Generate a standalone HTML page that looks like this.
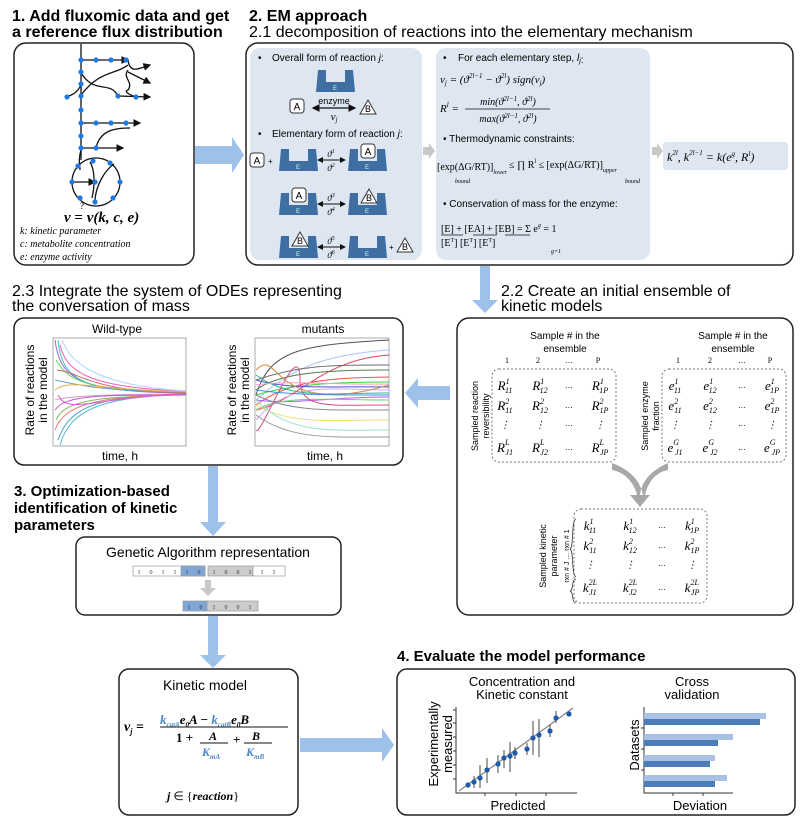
<!DOCTYPE html>
<html><head><meta charset="utf-8"><style>
html,body{margin:0;padding:0;background:#fff;}
svg{display:block;}
.b{font-family:"Liberation Sans",sans-serif;font-weight:bold;}
.s{font-family:"Liberation Sans",sans-serif;}
.m{font-family:"Liberation Serif",serif;font-style:italic;}
</style></head><body>
<svg width="800" height="823" viewBox="0 0 800 823" xmlns="http://www.w3.org/2000/svg">
<defs>
<g id="enz"><path d="M0,0 L8,0 L8,12 L27,12 L27,0 L35,0 L37,22 L-2,22 Z" fill="#3f6ea3"/><text x="17" y="20" font-size="6" fill="#cfe" class="s" text-anchor="middle">E</text></g>
<g id="ba"><rect x="0" y="0" width="14" height="14" rx="3" fill="#fff" stroke="#333"/><text x="7" y="11" font-size="10" class="s" text-anchor="middle">A</text></g>
<g id="tb"><path d="M7,0 L15,14 L-1,14 Z" fill="#fff" stroke="#333"/><text x="7" y="12" font-size="9" class="s" text-anchor="middle">B</text></g>
<marker id="ah" markerWidth="6" markerHeight="6" refX="5" refY="3" orient="auto"><path d="M0,0 L6,3 L0,6 Z" fill="#111"/></marker>
<marker id="ahs" markerWidth="6" markerHeight="6" refX="1" refY="3" orient="auto"><path d="M6,0 L0,3 L6,6 Z" fill="#111"/></marker>
</defs>

<!-- Titles -->
<text x="12" y="21" font-size="16" class="b">1. Add fluxomic data and get</text>
<text x="12" y="37" font-size="16" class="b">a reference flux distribution</text>
<text x="249" y="21" font-size="16" class="b">2. EM approach</text>
<text x="249" y="37" font-size="16" class="s">2.1 decomposition of reactions into the elementary mechanism</text>

<!-- Box 1 -->
<rect x="14" y="43" width="180" height="222" rx="12" fill="#fff" stroke="#222" stroke-width="1.5"/>
<g stroke="#111" stroke-width="1.3" fill="none">
<line x1="81" y1="44" x2="81" y2="160"/>
<line x1="81" y1="60" x2="128" y2="60" marker-end="url(#ah)"/>
<path d="M128,60 C130,75 140,68 150,65" marker-end="url(#ah)"/>
<line x1="128" y1="72" x2="150" y2="83" marker-end="url(#ah)"/>
<path d="M81,73 C95,95 110,80 118,96" />
<path d="M81,95 C100,70 115,75 128,65"/>
<line x1="118" y1="96" x2="150" y2="97" marker-end="url(#ah)"/>
<path d="M128,70 C122,78 134,82 128,90 C122,92 134,96 135,97"/>
<path d="M81,85 C76,95 70,95 67,97"/>
<line x1="81" y1="123" x2="140" y2="123" marker-end="url(#ah)"/>
<line x1="81" y1="148" x2="123" y2="148" marker-end="url(#ah)"/>
<path d="M96,148 C100,130 115,128 130,128"/>
<path d="M81,150 C78,160 80,165 80,170"/>
<circle cx="96" cy="182" r="24"/>
<line x1="73" y1="182" x2="95" y2="182" marker-end="url(#ah)"/>
<path d="M95,200 C96,185 105,170 114,164"/>
<path d="M92,198 C95,185 95,170 90,162"/>
</g>
<g fill="#1e7be0">
<circle cx="81" cy="60" r="2.6"/><circle cx="96" cy="60" r="2.6"/><circle cx="111" cy="60" r="2.6"/><circle cx="126" cy="60" r="2.6"/>
<circle cx="81" cy="72" r="2.6"/><circle cx="81" cy="84" r="2.6"/><circle cx="81" cy="96" r="2.6"/><circle cx="67" cy="97" r="2.6"/>
<circle cx="118" cy="96" r="2.6"/><circle cx="136" cy="97" r="2.6"/><circle cx="81" cy="110" r="2.6"/>
<circle cx="81" cy="123" r="2.6"/><circle cx="96" cy="123" r="2.6"/><circle cx="111" cy="123" r="2.6"/><circle cx="126" cy="123" r="2.6"/>
<circle cx="81" cy="136" r="2.6"/><circle cx="81" cy="148" r="2.6"/><circle cx="96" cy="148" r="2.6"/>
<circle cx="78" cy="166" r="2.6"/><circle cx="93" cy="161" r="2.6"/><circle cx="110" cy="163" r="2.6"/>
<circle cx="72" cy="182" r="2.6"/><circle cx="95" cy="182" r="2.6"/><circle cx="120" cy="182" r="2.6"/>
<circle cx="80" cy="198" r="2.6"/><circle cx="95" cy="202" r="2.6"/><circle cx="113" cy="198" r="2.6"/>
</g>
<text x="64" y="222" font-size="15" font-family="Liberation Serif,serif" font-weight="bold" font-style="italic">v <tspan font-style="normal">=</tspan> v(k, c, e)</text>
<text x="80" y="209" font-size="9" font-family="Liberation Serif,serif">?</text>
<text x="20" y="234" font-size="10" class="m">k: kinetic parameter</text>
<text x="20" y="247" font-size="10" class="m">c: metabolite concentration</text>
<text x="20" y="260" font-size="10" class="m">e: enzyme activity</text>

<!-- Arrow 1->2 -->
<path d="M195,146 L232,146 L232,137 L244,155 L232,173 L232,164 L195,164 Z" fill="#9dc1e8"/>

<!-- Box 2 -->
<rect x="246" y="43" width="547" height="222" rx="12" fill="#fff" stroke="#222" stroke-width="1.5"/>
<rect x="250" y="48" width="172" height="212" rx="10" fill="#dee7f1"/>
<rect x="436" y="48" width="214" height="212" rx="10" fill="#dee7f1"/>
<text x="258" y="61" font-size="10" class="s">•</text><text x="272" y="61" font-size="10" class="s">Overall form of reaction <tspan font-style="italic">j</tspan>:</text>
<use href="#enz" x="318" y="70"/>
<use href="#ba" x="290" y="99"/>
<line x1="313" y1="108" x2="355" y2="108" stroke="#111" stroke-width="1.3" marker-end="url(#ah)" marker-start="url(#ahs)"/>
<text x="334" y="104" font-size="9" class="s" text-anchor="middle">enzyme</text>
<text x="334" y="120" font-size="11" class="m" text-anchor="middle">v<tspan font-size="7" dy="2">j</tspan></text>
<use href="#tb" x="361" y="100"/>
<text x="258" y="137" font-size="10" class="s">•</text><text x="272" y="137" font-size="10" class="s">Elementary form of reaction <tspan font-style="italic">j</tspan>:</text>
<!-- row1 -->
<use href="#ba" x="250" y="153"/><text x="268" y="164" font-size="8" class="s">+</text>
<use href="#enz" x="281" y="149"/>
<line x1="318" y1="160" x2="345" y2="160" stroke="#111" marker-end="url(#ah)" marker-start="url(#ahs)"/>
<text x="331" y="157" font-size="9" class="m" text-anchor="middle">ϑ<tspan font-size="6" dy="-4">1</tspan></text>
<text x="331" y="171" font-size="9" class="m" text-anchor="middle">ϑ<tspan font-size="6" dy="-4">2</tspan></text>
<use href="#enz" x="350" y="149"/><use href="#ba" x="361" y="144"/>
<!-- row2 -->
<use href="#enz" x="281" y="193"/><use href="#ba" x="292" y="188"/>
<line x1="318" y1="204" x2="345" y2="204" stroke="#111" marker-end="url(#ah)" marker-start="url(#ahs)"/>
<text x="331" y="201" font-size="9" class="m" text-anchor="middle">ϑ<tspan font-size="6" dy="-4">3</tspan></text>
<text x="331" y="215" font-size="9" class="m" text-anchor="middle">ϑ<tspan font-size="6" dy="-4">4</tspan></text>
<use href="#enz" x="350" y="193"/><use href="#tb" x="362" y="189"/>
<!-- row3 -->
<use href="#enz" x="281" y="236"/><use href="#tb" x="293" y="232"/>
<line x1="318" y1="247" x2="345" y2="247" stroke="#111" marker-end="url(#ah)" marker-start="url(#ahs)"/>
<text x="331" y="244" font-size="9" class="m" text-anchor="middle">ϑ<tspan font-size="6" dy="-4">5</tspan></text>
<text x="331" y="258" font-size="9" class="m" text-anchor="middle">ϑ<tspan font-size="6" dy="-4">6</tspan></text>
<use href="#enz" x="350" y="236"/><text x="389" y="250" font-size="8" class="s">+</text><use href="#tb" x="398" y="238"/>

<path d="M423,147 L429,147 L429,143 L435,151 L429,159 L429,155 L423,155 Z" fill="#c8c8c8"/>
<path d="M652,147 L657,147 L657,143 L663,151 L657,159 L657,155 L652,155 Z" fill="#c8c8c8"/>

<!-- middle panel -->
<text x="443" y="61" font-size="10" class="s">•</text><text x="458" y="61" font-size="10" class="s">For each elementary step, <tspan font-style="italic">l<tspan font-size="7" dy="2">j</tspan></tspan>:</text>
<text x="440" y="83" font-size="11" class="m">v<tspan font-size="7" dy="2">j</tspan><tspan dy="-2"> = (ϑ</tspan><tspan font-size="7" dy="-5">2l−1</tspan><tspan dy="5"> − ϑ</tspan><tspan font-size="7" dy="-5">2l</tspan><tspan dy="5">) sign(v</tspan><tspan font-size="7" dy="2">j</tspan><tspan dy="-2">)</tspan></text>
<text x="440" y="112" font-size="11" class="m">R<tspan font-size="7" dy="-5">l</tspan><tspan dy="5"> =</tspan></text>
<text x="508" y="105" font-size="10" class="m" text-anchor="middle">min(ϑ<tspan font-size="7" dy="-4">2l−1</tspan><tspan dy="4">, ϑ</tspan><tspan font-size="7" dy="-4">2l</tspan><tspan dy="4">)</tspan></text>
<line x1="465" y1="109" x2="550" y2="109" stroke="#111" stroke-width="0.8"/>
<text x="508" y="122" font-size="10" class="m" text-anchor="middle">max(ϑ<tspan font-size="7" dy="-4">2l−1</tspan><tspan dy="4">, ϑ</tspan><tspan font-size="7" dy="-4">2l</tspan><tspan dy="4">)</tspan></text>
<text x="443" y="142" font-size="10" class="s">• Thermodynamic constraints:</text>
<text x="437" y="170" font-size="10" font-family="Liberation Serif,serif">[exp(ΔG/RT)]<tspan font-size="6" font-style="italic" dy="4">lower</tspan></text>
<text x="509" y="168" font-size="10" font-family="Liberation Serif,serif">≤ ∏ R<tspan font-size="6" dy="-5">l</tspan><tspan dy="5"> ≤ [exp(ΔG/RT)]</tspan><tspan font-size="6" font-style="italic" dy="4">upper</tspan></text>
<text x="455" y="183" font-size="6" class="m">bound</text><text x="625" y="183" font-size="6" class="m">bound</text>
<text x="443" y="207" font-size="10" class="s">• Conservation of mass for the enzyme:</text>
<text x="441" y="232" font-size="10" font-family="Liberation Serif,serif">[E]   +  [EA] +  [EB]  =  Σ e<tspan font-size="6" font-style="italic" dy="-5">g</tspan><tspan dy="5"> = 1</tspan></text>
<line x1="441" y1="235" x2="463" y2="235" stroke="#111" stroke-width="0.8"/>
<line x1="473" y1="235" x2="497" y2="235" stroke="#111" stroke-width="0.8"/>
<line x1="505" y1="235" x2="530" y2="235" stroke="#111" stroke-width="0.8"/>
<text x="441" y="246" font-size="10" font-family="Liberation Serif,serif">[E<tspan font-size="6" dy="-4">T</tspan><tspan dy="4">]   [E</tspan><tspan font-size="6" dy="-4">T</tspan><tspan dy="4">]    [E</tspan><tspan font-size="6" dy="-4">T</tspan><tspan dy="4">]</tspan></text>
<text x="551" y="253" font-size="6" class="m">g=1</text>

<rect x="663" y="142" width="125" height="28" rx="3" fill="#dee7f1"/>
<text x="667" y="161" font-size="12" class="m">k<tspan font-size="7" dy="-6">2l</tspan><tspan dy="6">, k</tspan><tspan font-size="7" dy="-6">2l−1</tspan><tspan dy="6"> = k(e</tspan><tspan font-size="7" dy="-5">g</tspan><tspan dy="5">, R</tspan><tspan font-size="7" dy="-5">l</tspan><tspan dy="5">)</tspan></text>

<!-- arrow down box2 -> 2.2 -->
<path d="M480,266 L490,266 L490,300 L498,300 L485,313 L472,300 L480,300 Z" fill="#9dc1e8"/>

<!-- 2.2 -->
<text x="501" y="296" font-size="16" class="s">2.2 Create an initial ensemble of</text>
<text x="501" y="311" font-size="16" class="s">kinetic models</text>
<rect x="457" y="318" width="336" height="297" rx="12" fill="#fff" stroke="#222" stroke-width="1.5"/>
<text x="565" y="339" font-size="10" class="s" text-anchor="middle">Sample # in the</text>
<text x="565" y="352" font-size="10" class="s" text-anchor="middle">ensemble</text>
<text x="733" y="339" font-size="10" class="s" text-anchor="middle">Sample # in the</text>
<text x="733" y="352" font-size="10" class="s" text-anchor="middle">ensemble</text>
<g font-size="8" font-family="Liberation Serif,serif" text-anchor="middle">
<text x="507" y="363">1</text><text x="538" y="363">2</text><text x="569" y="363">…</text><text x="598" y="363">P</text>
<text x="678" y="363">1</text><text x="710" y="363">2</text><text x="742" y="363">…</text><text x="770" y="363">P</text>
</g>
<rect x="492" y="369" width="124" height="93" rx="7" fill="none" stroke="#777" stroke-dasharray="2,2"/>
<rect x="662" y="369" width="124" height="93" rx="7" fill="none" stroke="#777" stroke-dasharray="2,2"/>
<rect x="574" y="509" width="133" height="94" rx="7" fill="none" stroke="#777" stroke-dasharray="2,2"/>
<g font-size="13" class="m" text-anchor="middle">
<text x="505" y="390">R<tspan font-size="8" dy="-6">1</tspan><tspan font-size="8" dx="-4" dy="9">11</tspan></text>
<text x="540" y="390">R<tspan font-size="8" dy="-6">1</tspan><tspan font-size="8" dx="-4" dy="9">12</tspan></text>
<text x="569" y="388" font-size="8">…</text>
<text x="600" y="390">R<tspan font-size="8" dy="-6">1</tspan><tspan font-size="8" dx="-4" dy="9">1P</tspan></text>
<text x="505" y="410">R<tspan font-size="8" dy="-6">2</tspan><tspan font-size="8" dx="-4" dy="9">11</tspan></text>
<text x="540" y="410">R<tspan font-size="8" dy="-6">2</tspan><tspan font-size="8" dx="-4" dy="9">12</tspan></text>
<text x="569" y="408" font-size="8">…</text>
<text x="600" y="410">R<tspan font-size="8" dy="-6">2</tspan><tspan font-size="8" dx="-4" dy="9">1P</tspan></text>
<text x="505" y="428" font-size="10">⋮</text><text x="540" y="428" font-size="10">⋮</text><text x="569" y="426" font-size="8">…</text><text x="600" y="428" font-size="10">⋮</text>
<text x="505" y="452">R<tspan font-size="8" dy="-7">L</tspan><tspan font-size="8" dx="-4" dy="10">J1</tspan></text>
<text x="540" y="452">R<tspan font-size="8" dy="-7">L</tspan><tspan font-size="8" dx="-4" dy="10">J2</tspan></text>
<text x="569" y="450" font-size="8">…</text>
<text x="600" y="452">R<tspan font-size="8" dy="-7">L</tspan><tspan font-size="8" dx="-4" dy="10">JP</tspan></text>

<text x="675" y="390">e<tspan font-size="8" dy="-6">1</tspan><tspan font-size="8" dx="-4" dy="9">11</tspan></text>
<text x="710" y="390">e<tspan font-size="8" dy="-6">1</tspan><tspan font-size="8" dx="-4" dy="9">12</tspan></text>
<text x="742" y="388" font-size="8">…</text>
<text x="772" y="390">e<tspan font-size="8" dy="-6">1</tspan><tspan font-size="8" dx="-4" dy="9">1P</tspan></text>
<text x="675" y="410">e<tspan font-size="8" dy="-6">2</tspan><tspan font-size="8" dx="-4" dy="9">11</tspan></text>
<text x="710" y="410">e<tspan font-size="8" dy="-6">2</tspan><tspan font-size="8" dx="-4" dy="9">12</tspan></text>
<text x="742" y="408" font-size="8">…</text>
<text x="772" y="410">e<tspan font-size="8" dy="-6">2</tspan><tspan font-size="8" dx="-4" dy="9">1P</tspan></text>
<text x="675" y="428" font-size="10">⋮</text><text x="710" y="428" font-size="10">⋮</text><text x="742" y="426" font-size="8">…</text><text x="772" y="428" font-size="10">⋮</text>
<text x="675" y="452">e<tspan font-size="8" dy="-7">G</tspan><tspan font-size="8" dx="-4" dy="10">J1</tspan></text>
<text x="710" y="452">e<tspan font-size="8" dy="-7">G</tspan><tspan font-size="8" dx="-4" dy="10">J2</tspan></text>
<text x="742" y="450" font-size="8">…</text>
<text x="772" y="452">e<tspan font-size="8" dy="-7">G</tspan><tspan font-size="8" dx="-4" dy="10">JP</tspan></text>

<text x="590" y="530">k<tspan font-size="8" dy="-6">1</tspan><tspan font-size="8" dx="-4" dy="9">11</tspan></text>
<text x="630" y="530">k<tspan font-size="8" dy="-6">1</tspan><tspan font-size="8" dx="-4" dy="9">12</tspan></text>
<text x="662" y="528" font-size="8">…</text>
<text x="692" y="530">k<tspan font-size="8" dy="-6">1</tspan><tspan font-size="8" dx="-4" dy="9">1P</tspan></text>
<text x="590" y="550">k<tspan font-size="8" dy="-6">2</tspan><tspan font-size="8" dx="-4" dy="9">11</tspan></text>
<text x="630" y="550">k<tspan font-size="8" dy="-6">2</tspan><tspan font-size="8" dx="-4" dy="9">12</tspan></text>
<text x="662" y="548" font-size="8">…</text>
<text x="692" y="550">k<tspan font-size="8" dy="-6">2</tspan><tspan font-size="8" dx="-4" dy="9">1P</tspan></text>
<text x="590" y="568" font-size="10">⋮</text><text x="630" y="568" font-size="10">⋮</text><text x="662" y="566" font-size="8">…</text><text x="692" y="568" font-size="10">⋮</text>
<text x="590" y="592">k<tspan font-size="8" dy="-7">2L</tspan><tspan font-size="8" dx="-8" dy="10">J1</tspan></text>
<text x="630" y="592">k<tspan font-size="8" dy="-7">2L</tspan><tspan font-size="8" dx="-8" dy="10">J2</tspan></text>
<text x="662" y="590" font-size="8">…</text>
<text x="692" y="592">k<tspan font-size="8" dy="-7">2L</tspan><tspan font-size="8" dx="-8" dy="10">JP</tspan></text>
</g>
<g font-size="9" class="s" text-anchor="middle">
<text transform="translate(478,416) rotate(-90)">Sampled reaction</text>
<text transform="translate(489,416) rotate(-90)">reversibility</text>
<text transform="translate(648,416) rotate(-90)">Sampled enzyme</text>
<text transform="translate(659,416) rotate(-90)">fraction</text>
<text transform="translate(546,556) rotate(-90)">Sampled kinetic</text>
<text transform="translate(557,556) rotate(-90)">parameter</text>
<text transform="translate(569,556) rotate(-90)" font-size="7">rxn # J … rxn # 1</text>
</g>
<path d="M576,519 C571,520 574,548 570,549 C574,550 571,574 576,577 M576,579 C571,580 574,590 570,591 C574,592 571,602 576,603" fill="none" stroke="#333" stroke-width="0.8"/>
<!-- merge arrow -->
<path d="M612,463 C630,470 640,480 643,495 L650,495 L640,507 L630,495 L637,495 C634,482 624,472 612,470 Z M668,463 C652,470 642,480 640,495 L645,495 C648,482 656,472 668,470 Z" fill="#a8a8a8"/>

<!-- arrow 2.2 -> 2.3 -->
<path d="M450,386 L418,386 L418,378 L405,393 L418,408 L418,400 L450,400 Z" fill="#9dc1e8"/>

<!-- 2.3 -->
<text x="12" y="296" font-size="16" class="s">2.3 Integrate the system of ODEs representing</text>
<text x="12" y="311" font-size="16" class="s">the conversation of mass</text>
<rect x="14" y="318" width="389" height="147" rx="10" fill="#fff" stroke="#222" stroke-width="1.5"/>
<text x="117" y="333" font-size="12" class="s" text-anchor="middle">Wild-type</text>
<text x="323" y="333" font-size="12" class="s" text-anchor="middle">mutants</text>
<text transform="translate(34,390) rotate(-90)" font-size="12" class="s" text-anchor="middle">Rate of reactions</text>
<text transform="translate(47,390) rotate(-90)" font-size="12" class="s" text-anchor="middle">in the model</text>
<text transform="translate(236,390) rotate(-90)" font-size="12" class="s" text-anchor="middle">Rate of reactions</text>
<text transform="translate(249,390) rotate(-90)" font-size="12" class="s" text-anchor="middle">in the model</text>
<text x="120" y="460" font-size="12" class="s" text-anchor="middle">time, h</text>
<text x="325" y="460" font-size="12" class="s" text-anchor="middle">time, h</text>
<rect x="53" y="338" width="133" height="108" fill="#fff" stroke="#999" stroke-width="0.8"/>
<rect x="255" y="338" width="134" height="108" fill="#fff" stroke="#999" stroke-width="0.8"/>
<g fill="none" stroke-width="1" opacity="0.8">
<path d="M55,340 C60,380 80,392 186,393" stroke="#7b3fd0"/>
<path d="M58,340 C62,385 90,392 186,392" stroke="#2aa"/>
<path d="M60,345 C66,370 85,388 186,391" stroke="#e3a"/>
<path d="M56,360 C70,385 95,390 186,392" stroke="#3c3"/>
<path d="M57,370 C80,372 90,392 186,393" stroke="#b44"/>
<path d="M55,380 C70,383 100,392 186,392" stroke="#48c"/>
<path d="M55,400 C65,397 100,394 186,394" stroke="#c8a"/>
<path d="M55,410 C65,395 100,395 186,395" stroke="#a3c"/>
<path d="M56,420 C64,400 100,396 186,395" stroke="#6a3"/>
<path d="M58,440 C70,405 100,396 186,395" stroke="#2290c0"/>
<path d="M60,445 C70,410 100,397 186,394" stroke="#3ab"/>
<path d="M55,430 C64,405 95,396 186,394" stroke="#e55"/>
<path d="M62,340 C70,360 90,385 186,391" stroke="#9cf"/>
<path d="M55,390 C70,378 95,390 186,392" stroke="#d92"/>
<path d="M58,395 C68,415 90,398 186,394" stroke="#c3c"/>
</g>
<g fill="none" stroke-width="1" opacity="0.85">
<path d="M256,395 C270,350 300,345 389,340" stroke="#333"/>
<path d="M256,400 C290,370 320,355 389,350" stroke="#9bf"/>
<path d="M256,410 C300,400 320,360 389,355" stroke="#d24"/>
<path d="M256,380 C300,365 330,365 389,365" stroke="#555"/>
<path d="M256,390 C280,372 330,370 389,370" stroke="#363"/>
<path d="M256,405 C290,380 330,378 389,377" stroke="#e33"/>
<path d="M256,395 C290,385 330,382 389,382" stroke="#2c2"/>
<path d="M256,380 C290,390 330,386 389,387" stroke="#33c"/>
<path d="M256,420 C290,380 330,390 389,390" stroke="#c9f"/>
<path d="M256,375 C290,400 330,393 389,393" stroke="#1a8"/>
<path d="M256,400 C290,405 330,397 389,397" stroke="#a4f"/>
<path d="M256,410 C280,395 330,400 389,400" stroke="#5c5"/>
<path d="M256,430 C260,440 300,330 300,380 C300,410 330,405 389,405" stroke="#c36"/>
<path d="M256,395 C290,412 330,410 389,410" stroke="#777"/>
<path d="M256,405 C290,425 330,420 389,420" stroke="#dd5"/>
<path d="M256,400 C290,435 330,430 389,430" stroke="#8dc"/>
<path d="M256,415 C290,440 330,437 389,437" stroke="#888"/>
<path d="M256,370 C280,345 270,420 389,385" stroke="#c72"/>
<path d="M256,390 C290,395 330,395 389,395" stroke="#27d"/>
<path d="M256,385 C290,380 330,385 389,384" stroke="#f8a"/>
</g>

<!-- arrow down 2.3 -> GA -->
<path d="M208,466 L218,466 L218,522 L226,522 L213,536 L200,522 L208,522 Z" fill="#9dc1e8"/>
<text x="14" y="496" font-size="15" class="b">3. Optimization-based</text>
<text x="14" y="513" font-size="15" class="b">identification of kinetic</text>
<text x="14" y="530" font-size="15" class="b">parameters</text>

<rect x="76" y="537" width="265" height="78" rx="9" fill="#fff" stroke="#222" stroke-width="1.5"/>
<text x="208" y="557" font-size="14" class="s" text-anchor="middle">Genetic Algorithm representation</text>
<g font-size="6" font-family="Liberation Serif,serif" text-anchor="middle" stroke-width="0.7">
<rect x="133" y="566" width="72" height="10" fill="#fff" stroke="#999"/>
<rect x="181" y="566" width="24" height="10" fill="#7ea6d6" stroke="#999"/>
<rect x="208" y="566" width="45" height="10" fill="#ccc" stroke="#999"/>
<rect x="253" y="566" width="32" height="10" fill="#fff" stroke="#999"/>
<g fill="#333"><text x="139" y="574">1</text><text x="151" y="574">0</text><text x="163" y="574">1</text><text x="175" y="574">1</text><text x="187" y="574">1</text><text x="199" y="574">0</text><text x="214" y="574">1</text><text x="226" y="574">0</text><text x="238" y="574">0</text><text x="250" y="574">1</text><text x="262" y="574">1</text><text x="274" y="574">1</text></g>
<rect x="183" y="601" width="24" height="10" fill="#7ea6d6" stroke="#999"/>
<rect x="207" y="601" width="51" height="10" fill="#ccc" stroke="#999"/>
<g fill="#333"><text x="189" y="609">1</text><text x="201" y="609">0</text><text x="214" y="609">1</text><text x="226" y="609">0</text><text x="238" y="609">0</text><text x="250" y="609">1</text></g>
</g>
<path d="M205,580 L211,580 L211,588 L216,588 L208,596 L200,588 L205,588 Z" fill="#c8c8c8"/>

<path d="M208,616 L218,616 L218,655 L226,655 L213,668 L200,655 L208,655 Z" fill="#9dc1e8"/>

<!-- Kinetic model -->
<rect x="119" y="669" width="179" height="146" rx="10" fill="#fff" stroke="#222" stroke-width="1.5"/>
<text x="205" y="690" font-size="14" class="s" text-anchor="middle">Kinetic model</text>
<g font-family="Liberation Serif,serif" font-weight="bold" font-style="italic">
<text x="124" y="731" font-size="14">v<tspan font-size="8" dy="3">j</tspan><tspan dy="-3" font-style="normal"> =</tspan></text>
<text x="160" y="724" font-size="13"><tspan fill="#4a86c8">k<tspan font-size="7" dy="3">catA</tspan></tspan><tspan dy="-3">e</tspan><tspan font-size="7" dy="3">0</tspan><tspan dy="-3">A − </tspan><tspan fill="#4a86c8">k<tspan font-size="7" dy="3">catB</tspan></tspan><tspan dy="-3">e</tspan><tspan font-size="7" dy="3">0</tspan><tspan dy="-3">B</tspan></text>
<line x1="160" y1="727" x2="288" y2="727" stroke="#111" stroke-width="1"/>
<text x="176" y="742" font-size="13" font-style="normal">1 +</text>
<text x="209" y="740" font-size="12">A</text><line x1="200" y1="743" x2="228" y2="743" stroke="#111"/>
<text x="202" y="756" font-size="12" fill="#4a86c8">K<tspan font-size="7" dy="3">mA</tspan></text>
<text x="233" y="744" font-size="13" font-style="normal">+</text>
<text x="252" y="740" font-size="12">B</text><line x1="244" y1="743" x2="272" y2="743" stroke="#111"/>
<text x="246" y="756" font-size="12" fill="#4a86c8">K<tspan font-size="7" dy="3">mB</tspan></text>
<text x="167" y="800" font-size="12">j <tspan font-style="normal" font-weight="normal">∈ {</tspan>reaction<tspan font-style="normal" font-weight="normal">}</tspan></text>
</g>

<path d="M300,738 L382,738 L382,728 L394,745 L382,762 L382,752 L300,752 Z" fill="#9dc1e8"/>

<!-- 4 -->
<text x="397" y="661" font-size="15" class="b">4. Evaluate the model performance</text>
<rect x="397" y="669" width="398" height="146" rx="10" fill="#fff" stroke="#222" stroke-width="1.5"/>
<text x="522" y="686" font-size="13" class="s" text-anchor="middle">Concentration and</text>
<text x="522" y="699" font-size="13" class="s" text-anchor="middle">Kinetic constant</text>
<text x="692" y="686" font-size="13" class="s" text-anchor="middle">Cross</text>
<text x="692" y="699" font-size="13" class="s" text-anchor="middle">validation</text>
<text transform="translate(438,744) rotate(-90)" font-size="13" class="s" text-anchor="middle">Experimentally</text>
<text transform="translate(452,744) rotate(-90)" font-size="13" class="s" text-anchor="middle">measured</text>
<text x="518" y="810" font-size="13" class="s" text-anchor="middle">Predicted</text>
<text transform="translate(639,745) rotate(-90)" font-size="13" class="s" text-anchor="middle">Datasets</text>
<text x="700" y="810" font-size="13" class="s" text-anchor="middle">Deviation</text>
<g stroke="#333" stroke-width="1" fill="none">
<path d="M456,707 L456,793 L577,793"/>
<path d="M453,710 h3 M453,723 h3 M453,737 h3 M453,751 h3 M453,765 h3 M453,779 h3 M485,793 v3 M516,793 v3 M546,793 v3"/>
<path d="M644,707 L644,793 L733,793"/>
<path d="M641,728 h3 M641,749 h3 M641,770 h3 M673,793 v3 M703,793 v3"/>
</g>
<line x1="459" y1="791" x2="573" y2="708" stroke="#888" stroke-width="1.3"/>
<g stroke="#333" stroke-width="0.9">
<line x1="474" y1="776" x2="474" y2="788"/><line x1="480" y1="765" x2="480" y2="788"/><line x1="487" y1="758" x2="487" y2="783"/>
<line x1="498" y1="755" x2="498" y2="773"/><line x1="504" y1="750" x2="504" y2="768"/><line x1="510" y1="742" x2="510" y2="772"/>
<line x1="515" y1="747" x2="515" y2="759"/><line x1="527" y1="743" x2="527" y2="755"/><line x1="533" y1="721" x2="533" y2="755"/>
<line x1="539" y1="719" x2="539" y2="757"/><line x1="550" y1="725" x2="550" y2="737"/><line x1="556" y1="711" x2="556" y2="723"/>
</g>
<g fill="#1d5aa8">
<circle cx="468" cy="785" r="2.6"/><circle cx="474" cy="782" r="2.6"/><circle cx="480" cy="778" r="2.6"/><circle cx="487" cy="770" r="2.6"/>
<circle cx="498" cy="764" r="2.6"/><circle cx="504" cy="758" r="2.6"/><circle cx="510" cy="756" r="2.6"/><circle cx="515" cy="753" r="2.6"/>
<circle cx="527" cy="749" r="2.6"/><circle cx="533" cy="738" r="2.6"/><circle cx="539" cy="735" r="2.6"/><circle cx="550" cy="731" r="2.6"/>
<circle cx="556" cy="718" r="2.6"/><circle cx="569" cy="714" r="2.6"/>
</g>
<g>
<rect x="644" y="713" width="122" height="6" fill="#a8c1e4"/><rect x="644" y="719" width="116" height="6" fill="#4d7db8"/>
<rect x="644" y="734" width="89" height="6" fill="#a8c1e4"/><rect x="644" y="740" width="74" height="6" fill="#4d7db8"/>
<rect x="644" y="755" width="71" height="6" fill="#a8c1e4"/><rect x="644" y="761" width="66" height="6" fill="#4d7db8"/>
<rect x="644" y="775" width="83" height="6" fill="#a8c1e4"/><rect x="644" y="781" width="71" height="6" fill="#4d7db8"/>
</g>
</svg>
</body></html>
